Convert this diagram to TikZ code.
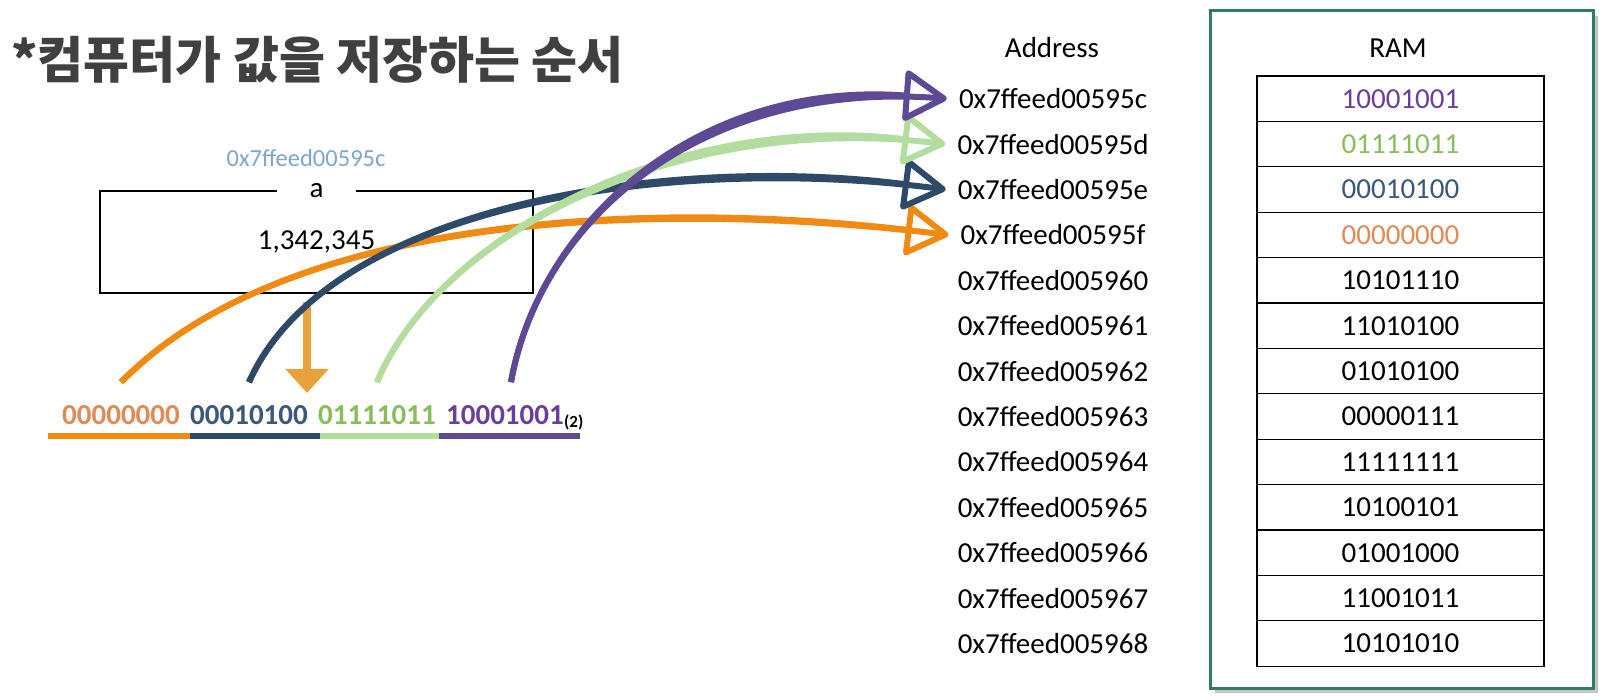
\documentclass[tikz,border=0pt]{standalone}
\usepackage{fontspec}
\setmainfont{Carlito}
\newfontfamily\krfont{Noto Sans CJK KR}
\usepackage{tikz}
\usetikzlibrary{arrows.meta,shadows,positioning}

\definecolor{c_title}{HTML}{404040}
\definecolor{c_lblue}{HTML}{7FA6CF}
\definecolor{c_frame}{HTML}{2E7D5F}
\definecolor{c_orange}{HTML}{F08A12}
\definecolor{c_blue}{HTML}{2E4A68}
\definecolor{c_green}{HTML}{B3DD9E}
\definecolor{c_purple}{HTML}{5E4A94}
\definecolor{c_down}{HTML}{E9A23B}
\definecolor{t_orange}{HTML}{E08A55}
\definecolor{t_blue}{HTML}{3A5878}
\definecolor{t_green}{HTML}{88BC5C}
\definecolor{t_purple}{HTML}{6A3F9B}

\begin{document}
\begin{tikzpicture}[
		x=1pt, y=-1pt,
		every node/.style={inner sep=0pt, font=\fontsize{29}{34}\selectfont},
		bits/.style={font=\bfseries\fontsize{29}{34}\selectfont},
		addr/.style={inner sep=12pt},
		cell/.style={draw, line width=1.2pt, minimum width=287pt, minimum height=45.4pt},
		curve/.style={line width=6pt, -{Triangle[open, length=46pt, width=54pt, round]},
			postaction={draw, arrows=-, shorten >=8pt}}
	]
  \useasboundingbox (0,0) rectangle (1612,700);
  \fill[white] (0,0) rectangle (1612,700);
  \node (title) [anchor=west, text=c_title, font=\krfont\bfseries\fontsize{50}{54}\selectfont] at (11,60) {*컴퓨터가 값을 저장하는 순서};

  % variable a
  \node (var_box) [draw, line width=1.2pt, minimum width=433pt, minimum height=102pt] at (316.5,242) {1,342,345};
  \node (var_name) [fill=white, minimum width=79pt, minimum height=20pt] at (var_box.north) {a};
  \node (var_addr) [text=c_lblue, font=\fontsize{24.5}{28}\selectfont] at (306,158) {0x7ffeed00595c};
  \coordinate (down_top) at (307,302);
  \coordinate (down_tip) at (307,393);
  \draw[line width=8pt, c_down, -{Triangle[length=24pt, width=42pt]}] (down_top) -- (down_tip);

  % bytes of a
  \node (bits_0) [bits, text=t_orange] at (121,415) {00000000};
  \node (bits_1) [bits, text=t_blue, right=10pt of bits_0] {00010100};
  \node (bits_2) [bits, text=t_green, right=10pt of bits_1] {01111011};
  \node (bits_3) [bits, text=t_purple, right=10pt of bits_2] {10001001};
  \node (radix) [anchor=base west, font=\bfseries\fontsize{17}{20}\selectfont] at ([yshift=-3pt]bits_3.base east) {(2)};
  \draw[line width=6pt, c_orange] (48,436) -- (190,436);
  \draw[line width=6pt, c_blue] (190,436) -- (320,436);
  \draw[line width=6pt, c_green] (320,436) -- (439,436);
  \draw[line width=6pt, c_purple] (439,436) -- (580,436);

  % memory
  \draw[c_frame, line width=3pt, fill=white, drop shadow={shadow xshift=5pt, shadow yshift=-5pt, opacity=0.45}] (1210,11) rectangle (1593,688);
  \node (addr_head) at (1052,48) {Address};
  \node (ram_head) at (1398,48) {RAM};
  \foreach \a [count=\i from 0] in {5c,5d,5e,5f,60,61,62,63,64,65,66,67,68}
    \node (addr_\i) [addr] at (1053, 98.7+45.4*\i) {0x7ffeed0059\a};
  \foreach \v/\c [count=\i from 0] in {10001001/t_purple, 01111011/t_green, 00010100/t_blue, 00000000/t_orange,
      10101110/black, 11010100/black, 01010100/black, 00000111/black, 11111111/black,
      10100101/black, 01001000/black, 11001011/black, 10101010/black}
    \node (ram_\i) [cell, text=\c] at (1400.5, 98.7+45.4*\i) {\v};

  \draw[curve, c_orange] ([yshift=23pt]bits_0.north) .. controls (300,200) and (700,205) .. (addr_3.west);
  \draw[curve, c_blue] ([yshift=23pt]bits_1.north) .. controls (330,200) and (680,155) .. (addr_2.west);
  \draw[curve, c_green] ([yshift=23pt]bits_2.north) .. controls (440,232) and (680,112) .. (addr_1.west);
  \draw[curve, c_purple] ([xshift=6pt, yshift=23pt]bits_3.north) .. controls (540,220) and (700,80) .. (addr_0.west);
\end{tikzpicture}
\end{document}
